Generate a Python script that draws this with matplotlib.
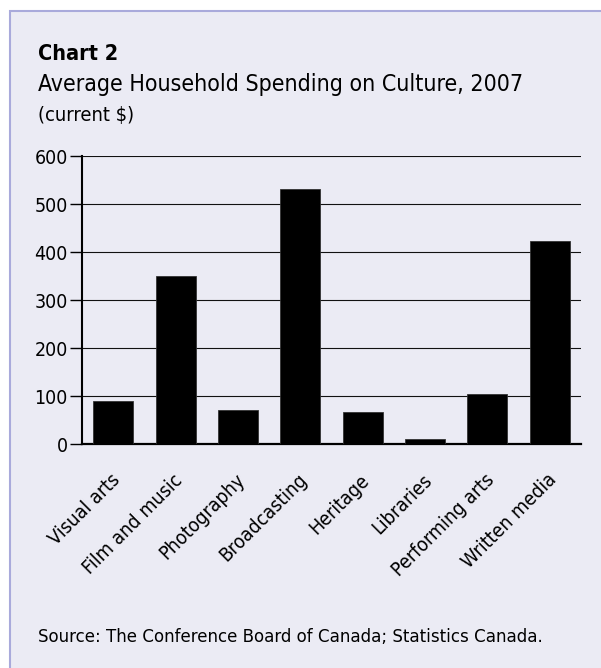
import matplotlib
matplotlib.use("Agg")
import matplotlib.pyplot as plt
from matplotlib.patches import Rectangle
from matplotlib.transforms import ScaledTranslation

categories = ["Visual arts", "Film and music", "Photography", "Broadcasting",
              "Heritage", "Libraries", "Performing arts", "Written media"]
spending = [90, 351, 70, 531, 67, 10, 105, 422]
yticks = [0, 100, 200, 300, 400, 500, 600]

bg = "#ebebf4"
plt.rcParams["font.family"] = ["DejaVu Sans"]
plt.rcParams["font.stretch"] = "condensed"

W, H = 601, 668
fig = plt.figure(figsize=(W / 100, H / 100), dpi=100)
fig.patch.set_facecolor("white")

# panel with light border on left/top
fig.patches.append(Rectangle((10.5 / W, -0.1), 1.2, 1 - 11.5 / H + 0.1,
                             transform=fig.transFigure, facecolor=bg,
                             edgecolor="#a9aadb", linewidth=1.5, zorder=-5))

ax = fig.add_axes([82 / W, (H - 444) / H, (581 - 82) / W, (444 - 156) / H])
ax.set_facecolor("none")

x = range(len(categories))
ax.bar(x, spending, width=0.64, color="black", edgecolor="#333333",
       linewidth=0.6, zorder=3)

ax.set_xlim(-0.5, len(categories) - 0.5)
ax.set_ylim(0, 600)
ax.set_yticks(yticks)
ax.yaxis.grid(True, color="#111111", linewidth=0.8, zorder=1)
ax.set_axisbelow(True)

for s in ["top", "right"]:
    ax.spines[s].set_visible(False)
ax.spines["left"].set_linewidth(1.5)
ax.spines["bottom"].set_linewidth(1.6)

ax.tick_params(axis="y", length=8.6, width=1.0, pad=1.5, labelsize=14)
ax.tick_params(axis="x", length=0, pad=19)
ax.set_xticks(list(x))
ax.set_xticklabels(categories, rotation=45, ha="right",
                   rotation_mode="anchor", fontsize=14)
shift = ScaledTranslation(-3 / 100, 0, fig.dpi_scale_trans)
for lab in ax.get_xticklabels():
    lab.set_transform(lab.get_transform() + shift)

fig.text(38 / W, 1 - 59.5 / H, "Chart 2", fontsize=15.5, fontweight="bold")
fig.text(38 / W, 1 - 91.5 / H, "Average Household Spending on Culture, 2007",
         fontsize=16.6)
fig.text(38 / W, 1 - 121 / H, "(current $)", fontsize=14.5)
fig.text(38 / W, 1 - 642.5 / H,
         "Source: The Conference Board of Canada; Statistics Canada.",
         fontsize=13.3)

fig.savefig("out.png", dpi=100, facecolor=fig.get_facecolor())
